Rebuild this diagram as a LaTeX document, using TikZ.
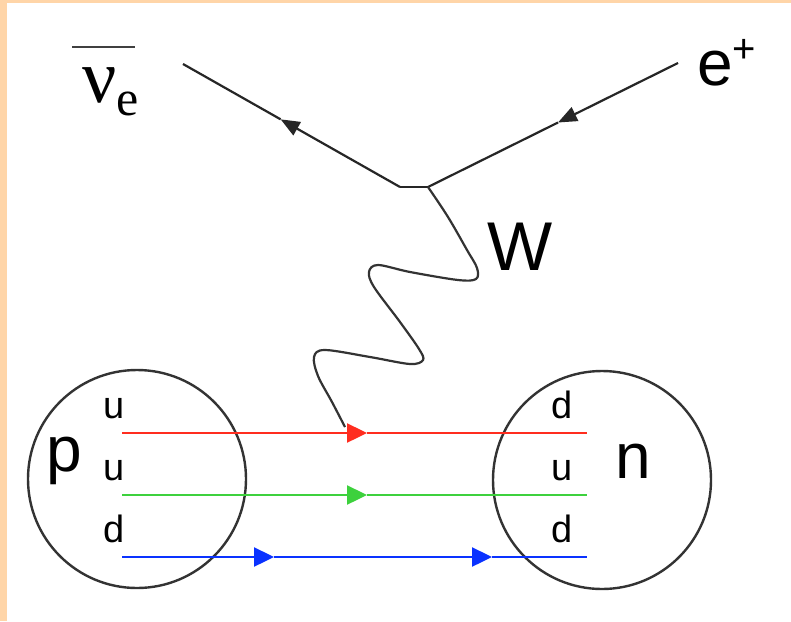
\documentclass[tikz,border=0pt]{standalone}
\usepackage{fontspec}
\setmainfont{Liberation Sans}
\newfontfamily\seriffont{Liberation Serif}
\usetikzlibrary{arrows.meta}
\definecolor{peach}{HTML}{FFD5A8}
\definecolor{qred}{HTML}{FF2D1F}
\definecolor{qgreen}{HTML}{3DD13D}
\definecolor{qblue}{HTML}{0A32FF}
\definecolor{ring}{HTML}{333333}
\begin{document}
\begin{tikzpicture}[x=1pt,y=-1pt,
  fermion/.style={line width=2.2pt, draw=black!85},
  arr/.style={-{Triangle[length=19pt,width=15pt]}},
  qarr/.style={-{Triangle[length=20pt,width=19pt]}},
  qline/.style={line width=2.4pt},
  wline/.style={line width=2.2pt, draw=ring},
  hadron/.style={circle, draw=ring, line width=2.4pt, minimum size=218pt, inner sep=0pt},
  big/.style={font=\fontsize{64}{64}\selectfont, inner sep=0pt, anchor=base},
  quark/.style={font=\fontsize{38}{38}\selectfont, inner sep=0pt, anchor=base}]
\useasboundingbox (0,0) rectangle (791,621);
\fill[peach] (0,0) rectangle (791,621);
\fill[white] (7,3) rectangle (791,621);

% hadrons
\node[hadron] (pc) at (137,479) {};
\node[hadron] (nc) at (602,480) {};

% quark lines
\coordinate (rA) at (122,433); \coordinate (rT) at (367,433); \coordinate (rB) at (587,433);
\coordinate (gA) at (122,495); \coordinate (gT) at (367,495); \coordinate (gB) at (587,495);
\coordinate (bA) at (122,557); \coordinate (bT1) at (274,557); \coordinate (bT2) at (492,557); \coordinate (bB) at (587,557);
\draw[qline, qred, qarr] (rA) -- (rT);
\draw[qline, qred] (rT) -- (rB);
\draw[qline, qgreen, qarr] (gA) -- (gT);
\draw[qline, qgreen] (gT) -- (gB);
\draw[qline, qblue, qarr] (bA) -- (bT1);
\draw[qline, qblue, qarr] (bT1) -- (bT2);
\draw[qline, qblue] (bT2) -- (bB);

% lepton lines
\coordinate (nuEnd) at (183,64);
\coordinate (vL) at (400,187);
\coordinate (vR) at (428,187);
\coordinate (ePos) at (678,63);
\path (vL) -- (nuEnd) coordinate[pos=0.55] (nuT);
\path (ePos) -- (vR) coordinate[pos=0.48] (eT);
\draw[fermion, arr] (vL) -- (nuT);
\draw[fermion] (nuT) -- (nuEnd);
\draw[fermion, arr] (ePos) -- (eT);
\draw[fermion] (eT) -- (vR);
\draw[fermion] (vL) -- (vR);

% W boson
\coordinate (wEnd) at (345,427);
\draw[wline] plot[smooth, tension=0.55] coordinates {(vR) (448,217) (467,250) (477,268) (476,279) (458,280) (410,272) (378,265) (369,272) (374,287) (400,322) (419,349) (423,360) (410,364) (370,357) (325,350) (314,357) (318,376) (332,402) (wEnd)};

% labels
\node[big] (plab) at (64,471) {p};
\node[big] (nlab) at (633,478) {n};
\node[quark] (q1) at (114,418) {u};
\node[quark] (q2) at (114,480) {u};
\node[quark] (q3) at (114,542) {d};
\node[quark] (q4) at (562,418) {d};
\node[quark] (q5) at (562,480) {u};
\node[quark] (q6) at (562,542) {d};
\node[font=\fontsize{69}{69}\selectfont, inner sep=0pt, anchor=base] (wlab) at (520,270) {W};
\node[font=\fontsize{64}{64}\selectfont, inner sep=0pt, anchor=base west] (elab) at (697,85) {e\raisebox{23pt}{\fontsize{40}{40}\selectfont +}};
\node[inner sep=0pt, anchor=base west] (nulab) at (82,102) {\seriffont\fontsize{76}{76}\selectfont ν\raisebox{-13pt}{\fontsize{50}{50}\selectfont e}};
\coordinate (barL) at (72,47); \coordinate (barR) at (135,47);
\draw[line width=2.4pt, draw=black!75] (barL) -- (barR);
\end{tikzpicture}
\end{document}
